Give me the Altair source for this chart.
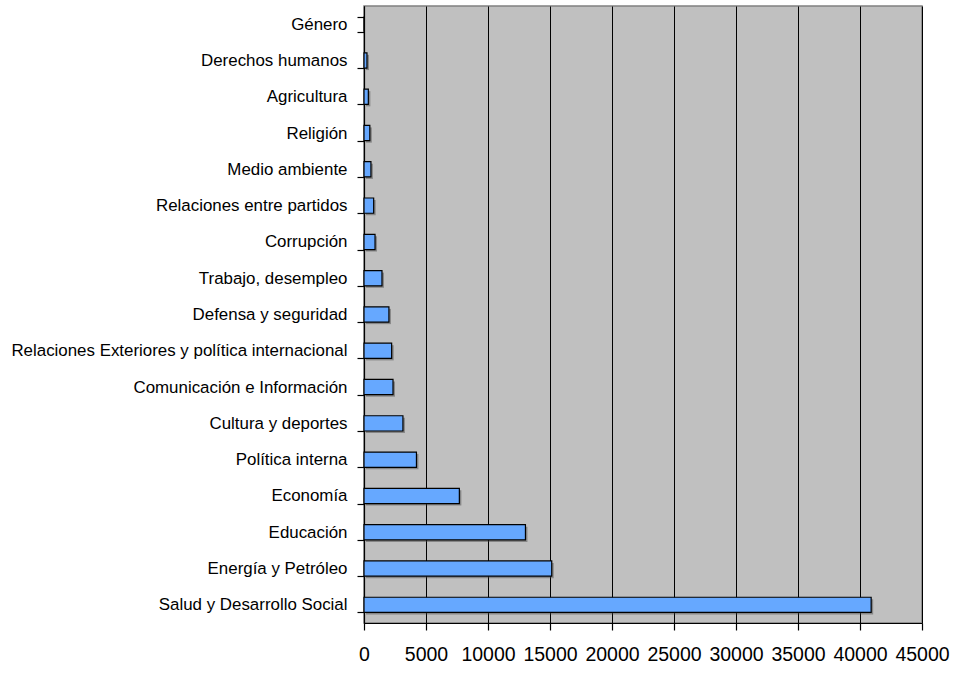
import altair as alt
import pandas as pd

categories = [
    "Género",
    "Derechos humanos",
    "Agricultura",
    "Religión",
    "Medio ambiente",
    "Relaciones entre partidos",
    "Corrupción",
    "Trabajo, desempleo",
    "Defensa y seguridad",
    "Relaciones Exteriores y política internacional",
    "Comunicación e Información",
    "Cultura y deportes",
    "Política interna",
    "Economía",
    "Educación",
    "Energía y Petróleo",
    "Salud y Desarrollo Social",
]
values = [0, 240, 350, 470, 560, 780, 890, 1450, 2010, 2230, 2340, 3140, 4230, 7690, 13020, 15140, 40900]
x_ticks = [0, 5000, 10000, 15000, 20000, 25000, 30000, 35000, 40000, 45000]

df = pd.DataFrame({"tema": categories, "valor": values})

FONT = "Liberation Sans"

y_enc = alt.Y(
    "tema:N",
    sort=categories,
    title=None,
    scale=alt.Scale(paddingInner=0.58, paddingOuter=0.29),
    axis=alt.Axis(
        tickBand="extent",
        tickSize=7,
        tickWidth=1.2,
        tickColor="black",
        domainColor="black",
        domainWidth=1.2,
        labelFont=FONT,
        labelFontSize=16.9,
        labelColor="black",
        labelPadding=10,
        labelLimit=500,
        grid=False,
    ),
)
x_enc = alt.X(
    "valor:Q",
    title=None,
    scale=alt.Scale(domain=[0, 45000], nice=False),
    axis=alt.Axis(
        values=x_ticks,
        format="d",
        tickSize=7,
        tickWidth=1.2,
        tickColor="black",
        domainColor="black",
        domainWidth=1.2,
        labelFont=FONT,
        labelFontSize=19.5,
        labelColor="black",
        labelPadding=15,
        grid=True,
        gridColor="black",
        gridOpacity=1,
        gridWidth=1,
        labelFlush=False,
        labelOverlap=False,
    ),
)

shadow = alt.Chart(df).mark_bar(
    color="#404040", opacity=0.45, xOffset=2, yOffset=2
).encode(x=alt.X("valor:Q", scale=alt.Scale(domain=[0, 45000], nice=False)), y=alt.Y("tema:N", sort=categories))

bars = alt.Chart(df).mark_bar(
    color="#66a8ff", stroke="black", strokeWidth=1.2
).encode(x=x_enc, y=y_enc)

chart = alt.layer(shadow, bars).properties(
    width=558,
    height=617,
    autosize=alt.AutoSizeParams(type="none"),
    padding={"left": 364, "top": 6, "right": 33, "bottom": 50},
    background="white",
).configure_view(
    fill="#c0c0c0", stroke="#808080", strokeWidth=1.5
)

chart.save("out.html", embed_options={"renderer": "svg", "actions": False})
